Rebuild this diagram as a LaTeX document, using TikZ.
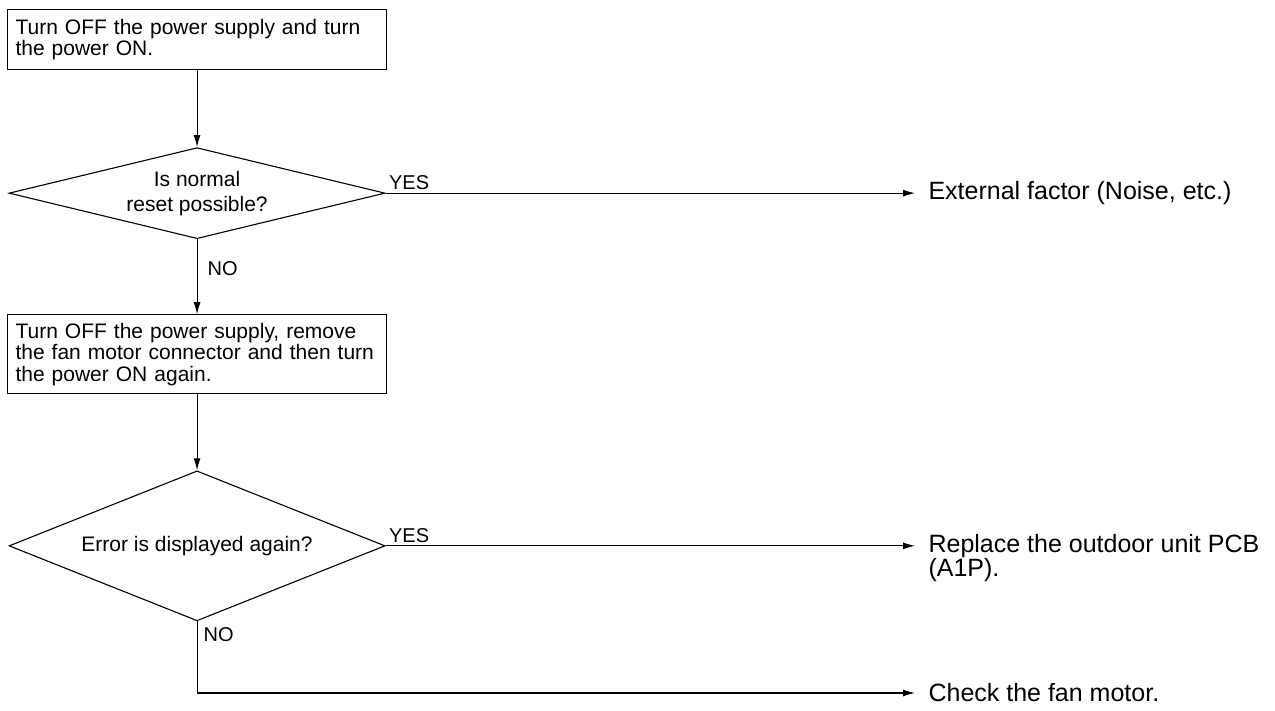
\documentclass[tikz,border=0pt]{standalone}
\usepackage{fontspec}
\setmainfont{Liberation Sans}
\usetikzlibrary{shapes.geometric, arrows.meta, positioning}

\begin{document}
\begin{tikzpicture}[
        x=1pt, y=1pt,
        line width=1.1pt,
        proc_node/.style={
            rectangle,
            draw,
            text width=363pt,
            inner xsep=8pt,
            align=left,
            font=\fontsize{21}{21.5}\selectfont
        },
        test_node/.style={
            diamond,
            draw,
            inner sep=0pt,
            minimum width=376pt,
            align=center,
            font=\fontsize{21}{25}\selectfont
        },
        result_node/.style={
            inner xsep=13pt,
            inner ysep=0pt,
            align=left,
            font=\fontsize{25}{23}\selectfont
        },
        tag/.style={
            font=\fontsize{20}{22}\selectfont,
            inner sep=3pt
        },
        arrow/.style={
            -{Latex[length=12pt, width=7pt]}
        }
    ]

    \useasboundingbox (0,0) rectangle (1275,-711);

    % Left column: steps and checks
    \node[proc_node, minimum height=60pt, anchor=north west] (poweron) at (7,-9) {Turn OFF the power supply and turn\\the power ON.};
    \node[test_node, minimum height=91pt, aspect=4, below=77pt of poweron] (reset) {Is normal\\reset possible?};
    \node[proc_node, minimum height=79pt, below=75pt of reset] (retry) {Turn OFF the power supply, remove\\the fan motor connector and then turn\\the power ON again.};
    \node[test_node, minimum height=150pt, aspect=2.5, below=76pt of retry] (errshow) {Error is displayed again?};

    % Right column: outcomes
    \node[result_node, anchor=west] (extfac) at (reset.east -| 915,0) {External factor (Noise, etc.)};
    \node[result_node, anchor=north west] (pcb) at (915,-534) {Replace the outdoor unit PCB\\(A1P).};
    \node[result_node, anchor=west] (fanchk) at (915,-693) {Check the fan motor.};

    % Connecting Arrows
    \draw[arrow] (poweron) -- (reset);
    \draw[arrow] (reset.east) -- node[tag, pos=0, anchor=south west] (yes1) {YES} (extfac.west);
    \draw[arrow] (reset) -- node[tag, pos=0.39, right, inner xsep=10pt] (no1) {NO} (retry);
    \draw[arrow] (retry) -- (errshow);
    \draw[arrow] (errshow.east) -- node[tag, pos=0, anchor=south west] (yes2) {YES} (errshow.east -| pcb.west);
    \draw[arrow] (errshow.south) |- (fanchk.west);
    \node[tag, anchor=north west, inner sep=6pt] (no2) at (errshow.south) {NO};

\end{tikzpicture}
\end{document}
